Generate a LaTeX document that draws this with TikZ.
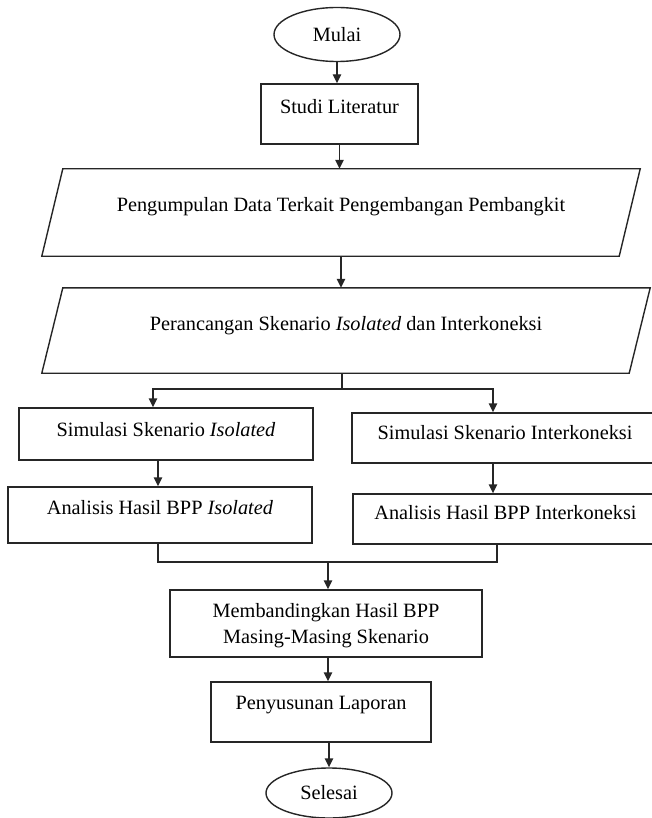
\documentclass[tikz,border=0pt]{standalone}
\usepackage{fontspec}
\setmainfont{Liberation Serif}
\usetikzlibrary{arrows.meta,shapes.geometric}
\begin{document}
\begin{tikzpicture}[x=1pt,y=-1pt,
  every node/.style={font=\fontsize{20.3}{26}\selectfont},
  box/.style={draw=black!85, line width=1.4pt, inner sep=0pt},
  term/.style={draw=black!85, ellipse, line width=1.4pt, inner sep=0pt},
  plain/.style={draw=black!85, line width=1.4pt},
  arr/.style={draw=black!85, line width=1.4pt, -{Triangle[length=9pt,width=8.5pt]}},
  txt/.style={inner sep=0pt, align=center}]
\useasboundingbox (0,0) rectangle (652,818);

% terminals and boxes
\node[term, minimum width=126pt, minimum height=54pt] (mulai) at (337,34.5) {Mulai};
\node[box, minimum width=157pt, minimum height=60pt] (studi) at (339.5,114) {};
\node[txt] (studiT) at ([yshift=7pt]studi.center) {Studi Literatur};

% parallelogram 1
\node[inner sep=0pt, minimum width=598pt, minimum height=87pt] (p1) at (341,212.5) {};
\draw[plain] ([xshift=21pt]p1.north west) -- (p1.north east) -- ([xshift=-21pt]p1.south east) -- (p1.south west) -- cycle;
\node[txt] (p1T) at ([yshift=5.5pt]p1.center) {Pengumpulan Data Terkait Pengembangan Pembangkit};

% parallelogram 2
\node[inner sep=0pt, minimum width=608pt, minimum height=85pt] (p2) at (346,330.5) {};
\draw[plain] ([xshift=21pt]p2.north west) -- (p2.north east) -- ([xshift=-21pt]p2.south east) -- (p2.south west) -- cycle;
\node[txt] (p2T) at ([yshift=5pt]p2.center) {Perancangan Skenario \textit{Isolated} dan Interkoneksi};

% branches
\node[box, minimum width=294pt, minimum height=52pt] (sim1) at (166,434) {};
\node[txt] (sim1T) at ([yshift=4pt]sim1.center) {Simulasi Skenario \textit{Isolated}};
\node[box, minimum width=304pt, minimum height=56pt] (ana1) at (160,515) {};
\node[txt] (ana1T) at ([yshift=7pt]ana1.center) {Analisis Hasil BPP \textit{Isolated}};
\node[box, minimum width=306pt, minimum height=50pt] (sim2) at (505,438) {};
\node[txt] (sim2T) at ([yshift=5pt]sim2.center) {Simulasi Skenario Interkoneksi};
\node[box, minimum width=305pt, minimum height=50pt] (ana2) at (505.5,519) {};
\node[txt] (ana2T) at ([yshift=6pt]ana2.center) {Analisis Hasil BPP Interkoneksi};

% lower part
\node[box, minimum width=312pt, minimum height=67pt] (memb) at (326,623.5) {};
\node[txt] (membT) at ([yshift=-2.5pt]memb.center) {Membandingkan Hasil BPP\\Masing-Masing Skenario};
\node[box, minimum width=220pt, minimum height=60pt] (peny) at (321,712) {};
\node[txt] (penyT) at ([yshift=7pt]peny.center) {Penyusunan Laporan};
\node[term, minimum width=126pt, minimum height=50pt] (selesai) at (329,793) {Selesai};

% connectors
\draw[arr] (mulai.south) -- (mulai.south |- studi.north);
\draw[arr] (studi.south) -- (studi.south |- p1.north);
\draw[arr] (p1.south) -- (p1.south |- p2.north);

\coordinate (split) at (342,389);
\draw[plain] (p2.south -| split) -- (split);
\draw[arr] (split) -| ([xshift=-13pt]sim1.north);
\draw[arr] (split) -| ([xshift=-12pt]sim2.north);

\draw[arr] ([xshift=-8pt]sim1.south) -- ([xshift=-8pt]sim1.south |- ana1.north);
\draw[arr] ([xshift=-12pt]sim2.south) -- ([xshift=-12pt]sim2.south |- ana2.north);

\coordinate (merge) at (328,562);
\draw[plain] ([xshift=-2pt]ana1.south) |- (merge) -| ([xshift=-8.5pt]ana2.south);
\draw[arr] (merge) -- (merge |- memb.north);
\draw[arr] ([xshift=2pt]memb.south) -- ([xshift=2pt]memb.south |- peny.north);
\draw[arr] (selesai.north |- peny.south) -- (selesai.north);
\end{tikzpicture}
\end{document}
